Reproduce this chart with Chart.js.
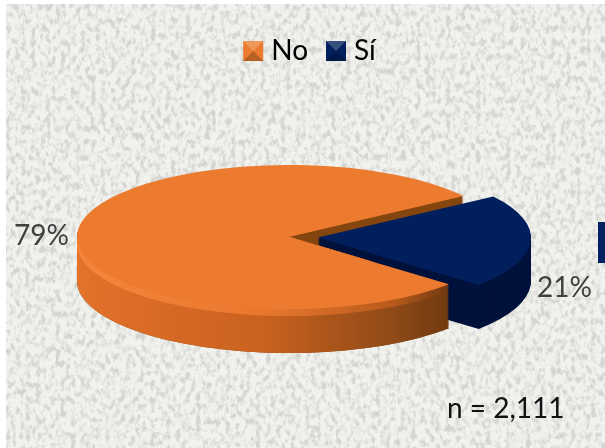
<!DOCTYPE html>
<html>
<head>
<meta charset="utf-8">
<script src="https://cdn.jsdelivr.net/npm/chart.js@4.4.1/dist/chart.umd.min.js"></script>
<style>
html, body { margin: 0; padding: 0; background: #fff; overflow: hidden; }
#wrap { position: relative; width: 605px; height: 448px; }
#paper {
    position: absolute; left: 6px; top: 4px; right: 0; bottom: 0;
    background-color: #f1f1ee;
    background-image: url("data:image/svg+xml,%3Csvg xmlns='http://www.w3.org/2000/svg' width='605' height='448'%3E%3Cfilter id='n'%3E%3CfeTurbulence type='fractalNoise' baseFrequency='0.2 0.14' numOctaves='3' seed='7'/%3E%3CfeColorMatrix values='0 0 0 0 0.66 0 0 0 0 0.66 0 0 0 0 0.64 2.8 2.8 0 0 -2.6'/%3E%3C/filter%3E%3Crect width='605' height='448' filter='url(%23n)'/%3E%3C/svg%3E");
}
#tab { position: absolute; left: 598px; top: 222px; width: 7px; height: 41px; background: #00205f; }
#c { position: absolute; left: 0; top: 0; }
</style>
</head>
<body>
<div id="wrap">
    <div id="paper"></div>
    <div id="tab"></div>
    <canvas id="c" width="605" height="448"></canvas>
</div>
<script>
const categories = ['No', 'Sí'];
const shares = [79, 21];
const sliceColors = ['#ec7a2f', '#001f5c'];
const sampleNote = 'n = 2,111';

// the pie is drawn flat by Chart.js, then squashed and extruded here
const centreX = 289, centreY = 237, squash = 0.34, depth = 44;

function paintArc(ctx, arc, fill) {
    const saved = arc.options;
    arc.options = Object.assign({}, saved, { backgroundColor: fill });
    arc.draw(ctx);
    arc.options = saved;
}

function orangeWall(ctx, arc, d) {
    const g = ctx.createLinearGradient(arc.x - 212, 0, arc.x + 160, 0);
    const glow = d < 8 ? 1 : 0;
    g.addColorStop(0, glow ? '#f4853a' : '#e3722a');
    g.addColorStop(0.5, glow ? '#e9782e' : '#c9611f');
    g.addColorStop(0.85, glow ? '#b85a1c' : '#8f4a17');
    g.addColorStop(1, '#70390f');
    return g;
}

const tilt3d = {
    id: 'tilt3d',
    beforeDatasetsDraw(chart) {
        const ctx = chart.ctx;
        const [orange, navy] = chart.getDatasetMeta(0).data;
        const place = (d) => {
            ctx.setTransform(1, 0, 0, squash, centreX - orange.x, centreY + d - orange.y * squash);
        };

        ctx.save();
        // cut face of the orange slice, seen through the gap
        for (let d = depth; d > 0; d -= 1) {
            place(d);
            paintArc(ctx, orange, '#85460f');
        }
        for (let d = depth; d > 0; d -= 1) {
            place(d);
            paintArc(ctx, navy, '#00123c');
        }
        place(0);
        paintArc(ctx, navy, sliceColors[1]);

        // front wall of the orange slice passes over the navy one
        const r = orange.outerRadius, a = orange.startAngle;
        const edgeX = centreX + Math.cos(a) * r, edgeY = centreY + Math.sin(a) * r * squash;
        ctx.setTransform(1, 0, 0, 1, 0, 0);
        ctx.beginPath();
        ctx.moveTo(centreX, centreY);
        ctx.lineTo(edgeX, edgeY);
        ctx.lineTo(edgeX, chart.height);
        ctx.lineTo(0, chart.height);
        ctx.lineTo(0, centreY);
        ctx.closePath();
        ctx.save();
        ctx.clip();
        for (let d = depth; d > 0; d -= 1) {
            place(d);
            paintArc(ctx, orange, orangeWall(ctx, orange, d));
        }
        ctx.restore();
        place(0);
        paintArc(ctx, orange, sliceColors[0]);
        ctx.restore();
        return false;
    },
    afterDraw(chart) {
        const ctx = chart.ctx;
        ctx.save();
        // legend keys sit closer to their text than Chart.js allows, with pillow shading
        chart.legend.legendHitBoxes.forEach((box, i) => {
            const x = box.left + 6, y = box.top + (box.height - 20) / 2;
            ctx.fillStyle = sliceColors[i];
            ctx.fillRect(x, y, 20, 20);
            ctx.fillStyle = 'rgba(255,255,255,0.22)';
            ctx.beginPath();
            ctx.moveTo(x, y); ctx.lineTo(x + 20, y); ctx.lineTo(x + 10, y + 10);
            ctx.fill();
            ctx.fillStyle = 'rgba(0,0,0,0.22)';
            ctx.beginPath();
            ctx.moveTo(x, y + 20); ctx.lineTo(x + 20, y + 20); ctx.lineTo(x + 10, y + 10);
            ctx.fill();
        });
        ctx.font = '28px Lato';
        ctx.fillStyle = '#3f3f3f';
        ctx.textBaseline = 'alphabetic';
        ctx.fillText(shares[0] + '%', 14, 245);
        ctx.fillText(shares[1] + '%', 537, 297);
        ctx.fillStyle = '#111';
        ctx.fillText(sampleNote, 447, 418);
        ctx.restore();
    }
};

new Chart(document.getElementById('c'), {
    type: 'pie',
    data: {
        labels: categories,
        datasets: [{
            data: shares,
            backgroundColor: sliceColors,
            borderWidth: 0,
            offset: [0, 116],
            clip: false
        }]
    },
    options: {
        responsive: false,
        animation: false,
        rotation: 131,
        radius: 212,
        layout: { padding: { top: 25, left: 8 } },
        plugins: {
            tooltip: { enabled: false },
            legend: {
                position: 'top',
                labels: {
                    boxWidth: 20,
                    boxHeight: 20,
                    padding: 12,
                    color: '#2b2b2b',
                    font: { family: 'Lato', size: 28 },
                    generateLabels() {
                        return categories.map((text, index) => ({ text, index, fillStyle: 'transparent', strokeStyle: 'transparent', lineWidth: 0 }));
                    }
                }
            }
        }
    },
    plugins: [tilt3d]
});
</script>
</body>
</html>
